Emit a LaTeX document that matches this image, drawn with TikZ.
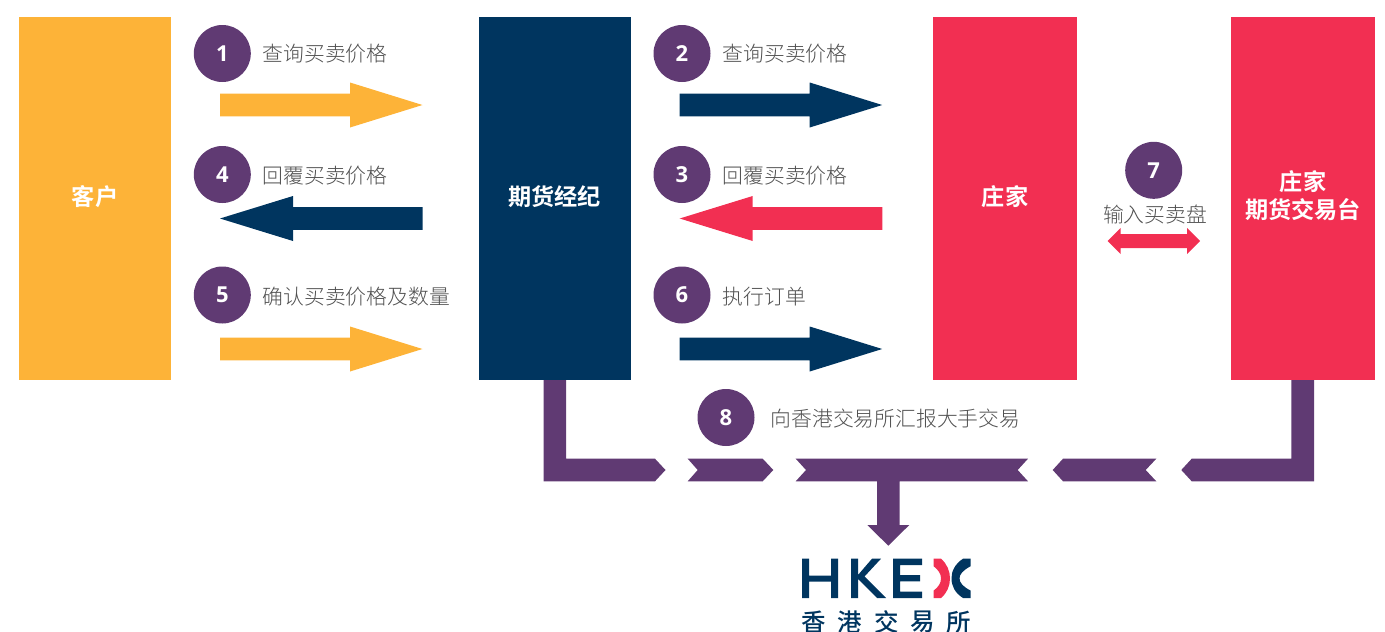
\documentclass[tikz,border=0pt]{standalone}
\usepackage{fontspec}
\newfontfamily\cjk{Noto Sans CJK SC Light}[BoldFont={Noto Sans CJK SC Bold}]
\newfontfamily\cjklogo{Noto Sans CJK SC Medium}
\newfontfamily\digits{Open Sans}
\definecolor{cyellow}{HTML}{FDB338}
\definecolor{cnavy}{HTML}{00355F}
\definecolor{cred}{HTML}{F22F52}
\definecolor{cpurple}{HTML}{603A73}
\definecolor{ctext}{HTML}{505050}
\newcommand{\dg}[1]{\raisebox{-1.5pt}{#1}}
\tikzset{
  partylabel/.style={text=white,font=\cjk\bfseries\fontsize{23.2}{28}\selectfont,align=center,inner sep=0pt},
  badge/.style={circle,fill=cpurple,draw=none,minimum size=57pt,inner sep=0pt,text=white,font=\digits\bfseries\fontsize{22}{24}\selectfont},
  caption/.style={anchor=west,text=ctext,inner sep=0pt,font=\cjk\fontsize{20.8}{24}\selectfont},
  logotext/.style={text=cnavy,inner sep=0pt,font=\cjklogo\fontsize{24.5}{28}\selectfont}
}
\newcommand{\rarrow}[3]{\fill[#1] (#2,#3-11.3) -- (#2+130,#3-11.3) -- (#2+130,#3-22.5) -- (#2+202.5,#3) -- (#2+130,#3+22.5) -- (#2+130,#3+11.3) -- (#2,#3+11.3) -- cycle;}
\newcommand{\larrow}[3]{\fill[#1] (#2,#3) -- (#2+73,#3-22.5) -- (#2+73,#3-11.3) -- (#2+202.7,#3-11.3) -- (#2+202.7,#3+11.3) -- (#2+73,#3+11.3) -- (#2+73,#3+22.5) -- cycle;}
\begin{document}
\begin{tikzpicture}[x=1pt,y=-1pt]
\useasboundingbox (0,0) rectangle (1385,632);
% parties
\fill[cyellow] (19,17) rectangle (171,380);
\fill[cnavy] (479,17) rectangle (631,380);
\fill[cred] (933,17) rectangle (1077,380);
\fill[cred] (1231,17) rectangle (1375,380);
\node[partylabel] (client) at (95,197) {客户};
\node[partylabel] (broker) at (554.5,197) {期货经纪};
\node[partylabel] (maker) at (1005,197) {庄家};
\node[partylabel] (desk) at (1303,196) {庄家\\期货交易台};
% badges and captions
\node[badge] (b1) at (222.3,53.5) {\dg{1}};
\node[caption] (c1) at (262.5,54) {查询买卖价格};
\node[badge] (b4) at (222.3,174.5) {\dg{4}};
\node[caption] (c4) at (262.5,176) {回覆买卖价格};
\node[badge] (b5) at (222.3,295) {\dg{5}};
\node[caption] (c5) at (262.5,297) {确认买卖价格及数量};
\node[badge] (b2) at (682,53.5) {\dg{2}};
\node[caption] (c2) at (722.5,54) {查询买卖价格};
\node[badge] (b3) at (682,174.5) {\dg{3}};
\node[caption] (c3) at (722.5,176) {回覆买卖价格};
\node[badge] (b6) at (682,295) {\dg{6}};
\node[caption] (c6) at (722.5,297) {执行订单};
\node[badge] (b7) at (1153.7,170.3) {\dg{7}};
\node[caption,anchor=center] (c7) at (1155,215) {输入买卖盘};
\node[badge] (b8) at (726,417.5) {\dg{8}};
\node[caption] (c8) at (770.5,419) {向香港交易所汇报大手交易};
% block arrows
\rarrow{cyellow}{220}{105}
\larrow{cnavy}{220}{218.5}
\rarrow{cyellow}{220}{349}
\rarrow{cnavy}{679.7}{105}
\larrow{cred}{679.7}{218.5}
\rarrow{cnavy}{679.7}{349}
\fill[cred] (1107.7,241) -- (1120.7,228) -- (1120.7,234) -- (1187,234) -- (1187,228) -- (1200,241) -- (1187,254) -- (1187,248) -- (1120.7,248) -- (1120.7,254) -- cycle;
% reporting channel
\fill[cpurple] (543.5,380) -- (566,380) -- (566,458.7) -- (655,458.7) -- (665.5,470) -- (655,481.3) -- (543.5,481.3) -- cycle;
\fill[cpurple] (687.7,458.7) -- (762.7,458.7) -- (773.3,470) -- (762.7,481.3) -- (687.7,481.3) -- (697.7,470) -- cycle;
\fill[cpurple] (795.7,458.7) -- (1028,458.7) -- (1017.7,470) -- (1028,481.3) -- (899.7,481.3) -- (899.7,525) -- (909.3,525) -- (888.3,545.7) -- (867.3,525) -- (877,525) -- (877,481.3) -- (795.7,481.3) -- (806,470) -- cycle;
\fill[cpurple] (1052.7,470) -- (1063,458.7) -- (1156.3,458.7) -- (1145.7,470) -- (1156.3,481.3) -- (1063,481.3) -- cycle;
\fill[cpurple] (1181.3,470) -- (1191.7,458.7) -- (1291.3,458.7) -- (1291.3,380) -- (1314,380) -- (1314,481.3) -- (1191.7,481.3) -- cycle;
% HKEX logo
\fill[cnavy] (802,558.7) -- (809,558.7) -- (809,575.5) -- (831,575.5) -- (831,558.7) -- (838,558.7) -- (838,598) -- (831,598) -- (831,581.5) -- (809,581.5) -- (809,598) -- (802,598) -- cycle;
\fill[cnavy] (851,558.7) -- (858,558.7) -- (858,575) -- (872,558.7) -- (881,558.7) -- (864.5,576.5) -- (886,598) -- (877,598) -- (858,579) -- (858,598) -- (851,598) -- cycle;
\fill[cnavy] (893,558.7) -- (922,558.7) -- (922,565) -- (900,565) -- (900,575) -- (920,575) -- (920,581.3) -- (900,581.3) -- (900,591.7) -- (922,591.7) -- (922,598) -- (893,598) -- cycle;
\fill[cred] (933.7,558.7) -- (941,558.7) .. controls (947,564) and (950,571) .. (950,578.3) .. controls (950,586) and (947,593) .. (941,598) -- (933.7,598) -- (933.7,590.5) .. controls (938.5,587) and (941,583) .. (941,578.3) .. controls (941,574) and (938.5,570) .. (933.7,566.3) -- cycle;
\fill[cnavy] (970.5,558.7) -- (963,558.7) .. controls (955,564) and (951.5,571) .. (951.5,578.3) .. controls (951.5,586) and (955,593) .. (963,598) -- (970.5,598) -- (970.5,590.5) .. controls (963.5,587) and (959.5,583) .. (959.5,578.3) .. controls (959.5,574) and (963.5,570) .. (970.5,566.3) -- cycle;
\node[logotext] (l1) at (814,622) {香};
\node[logotext] (l2) at (850,622) {港};
\node[logotext] (l3) at (887,622) {交};
\node[logotext] (l4) at (923,622) {易};
\node[logotext] (l5) at (959,622) {所};
\end{tikzpicture}
\end{document}
